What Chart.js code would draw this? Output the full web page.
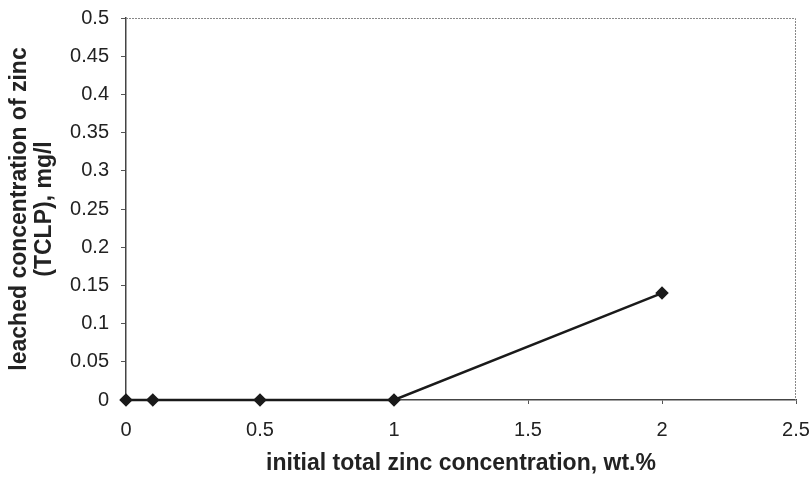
<!DOCTYPE html>
<html>
<head>
<meta charset="utf-8">
<script src="https://cdn.jsdelivr.net/npm/chart.js@4"></script>
<style>
  html, body { margin: 0; padding: 0; background: #fff; }
  #wrap { width: 811px; height: 477px; }
</style>
</head>
<body>
<div id="wrap"><canvas id="myChart"></canvas></div>
<script>
// data
var zincTotal = [0, 0.1, 0.5, 1, 2];          // wt.%
var zincLeached = [0, 0, 0, 0, 0.14];         // mg/l (TCLP)
var xTicks = [0, 0.5, 1, 1.5, 2, 2.5];
var yTicks = [0, 0.05, 0.1, 0.15, 0.2, 0.25, 0.3, 0.35, 0.4, 0.45, 0.5];

var pts = zincTotal.map(function (x, i) { return { x: x, y: zincLeached[i] }; });

// dotted top / right frame like the excel plot area
var frame = {
    id: 'frame',
    afterDraw: function (chart) {
        var a = chart.chartArea, ctx = chart.ctx;
        ctx.save();
        ctx.strokeStyle = '#888';
        ctx.lineWidth = 1;
        ctx.setLineDash([2, 1]);
        ctx.beginPath();
        ctx.moveTo(a.left, a.top + 0.5);
        ctx.lineTo(a.right - 0.5, a.top + 0.5);
        ctx.lineTo(a.right - 0.5, a.bottom);
        ctx.stroke();
        ctx.restore();
    }
};

var font = "'Liberation Sans', Arial, sans-serif";
function fmt(v) { return String(v); }

var ctx = document.getElementById('myChart').getContext('2d');
var myChart = new Chart(ctx, {
    type: 'scatter',
    data: {
        datasets: [{
            data: pts,
            showLine: true,
            clip: false,
            borderColor: '#1a1a1a',
            backgroundColor: '#1a1a1a',
            borderWidth: 2.5,
            pointStyle: 'rectRot',
            pointRadius: 5,
            pointHoverRadius: 5
        }]
    },
    options: {
        responsive: true,
        maintainAspectRatio: false,
        animation: false,
        layout: { padding: { top: 18, right: 15, left: 0, bottom: 0 } },
        plugins: { legend: { display: false }, tooltip: { enabled: false } },
        scales: {
            x: {
                type: 'linear',
                min: 0, max: 2.5,
                afterBuildTicks: function (s) { s.ticks = xTicks.map(function (v) { return { value: v }; }); },
                afterFit: function (s) { s.height = 77; s.paddingLeft = 0; s.paddingRight = 0; },
                grid: { drawOnChartArea: false, tickLength: 4, color: '#555' },
                border: { color: '#444', width: 1.5 },
                ticks: { font: { family: font, size: 20 }, color: '#222', padding: 14, maxRotation: 0, callback: fmt },
                title: {
                    display: true,
                    text: 'initial total zinc concentration, wt.%',
                    font: { family: font, size: 23, weight: 'bold' },
                    color: '#222',
                    padding: { top: 0, bottom: 0 }
                }
            },
            y: {
                min: 0, max: 0.5,
                afterBuildTicks: function (s) { s.ticks = yTicks.map(function (v) { return { value: v }; }); },
                afterFit: function (s) { s.width = 126; s.paddingTop = 0; s.paddingBottom = 0; },
                grid: { drawOnChartArea: false, tickLength: 5, color: '#555' },
                border: { color: '#444', width: 1.5 },
                ticks: { font: { family: font, size: 20 }, color: '#222', padding: 12, callback: fmt },
                title: {
                    display: true,
                    text: ['leached concentration of zinc', '(TCLP), mg/l'],
                    font: { family: font, size: 23, weight: 'bold', lineHeight: 1.1 },
                    color: '#222',
                    padding: { top: 7, bottom: 0 }
                }
            }
        }
    },
    plugins: [frame]
});
</script>
</body>
</html>
